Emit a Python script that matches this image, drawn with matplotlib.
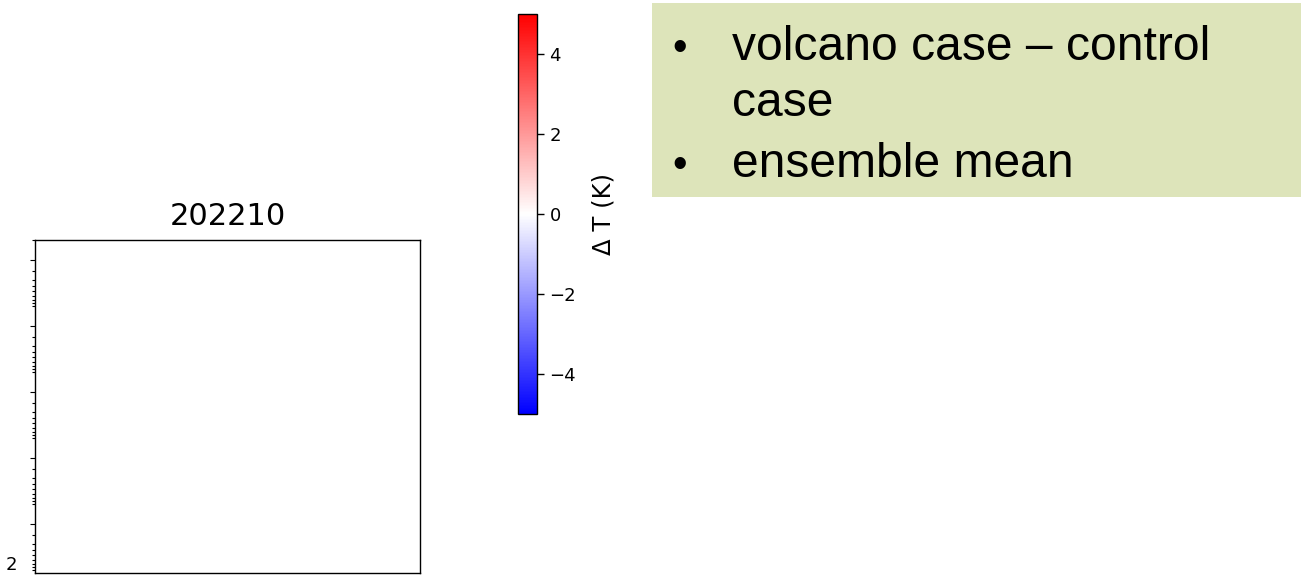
import matplotlib
matplotlib.use("Agg")
import matplotlib.pyplot as plt
from matplotlib.patches import Rectangle
from matplotlib.ticker import FixedLocator, LogLocator, NullFormatter
from matplotlib.cm import ScalarMappable
from matplotlib.colors import Normalize

# ---- data / text ----
panel_title = "202210"
pressure_limits = [1110, 0.01]          # log y-axis (inverted)
pressure_major = [0.02, 0.2, 2, 20, 200]
pressure_label_text = "2"
cbar_limits = [-5, 5]
cbar_ticks = [-4, -2, 0, 2, 4]
cbar_label = "Δ T (K)"
bullet_lines = ["volcano case – control", "case", "ensemble mean"]
bullet_flags = [True, False, True]

W, H = 1301, 578
fig = plt.figure(figsize=(W / 100, H / 100), dpi=100)

def fx(px):
    return px / W

def fy(py):
    return 1 - py / H

# ---- main (empty) axes ----
ax = fig.add_axes([fx(35), fy(573), fx(420) - fx(35), fy(240) - fy(573)])
ax.set_yscale("log")
ax.set_ylim(*pressure_limits)
ax.yaxis.set_major_locator(FixedLocator(pressure_major))
ax.yaxis.set_minor_locator(LogLocator(base=10, subs=[1, 3, 4, 5, 6, 7, 8, 9], numticks=30))
ax.yaxis.set_major_formatter(NullFormatter())
ax.yaxis.set_minor_formatter(NullFormatter())
ax.set_xticks([])
ax.tick_params(axis="y", which="major", length=3.4, width=0.8)
ax.tick_params(axis="y", which="minor", length=2.3, width=0.8)
for s in ax.spines.values():
    s.set_linewidth(1.0)
ax.set_title(panel_title, fontsize=22, pad=10.5)
fig.text(fx(17.5), fy(565.5), pressure_label_text, ha="right", va="center", fontsize=13)

# ---- colorbar ----
cax = fig.add_axes([fx(518), fy(414), fx(537) - fx(518), fy(14) - fy(414)])
sm = ScalarMappable(norm=Normalize(*cbar_limits), cmap="bwr")
cb = fig.colorbar(sm, cax=cax)
cb.set_ticks(cbar_ticks)
cb.ax.tick_params(labelsize=13, length=5, width=1.0, pad=4)
cb.outline.set_linewidth(1.0)
cb.set_label(cbar_label, fontsize=17.5, labelpad=11)

# ---- text box ----
fig.add_artist(Rectangle((fx(651.5), fy(197)), 1 - fx(651.5), fy(2.7) - fy(197),
                         transform=fig.transFigure, facecolor="#DDE4BA",
                         edgecolor="none", zorder=0))
baselines = [60, 116, 177]
for txt, flag, yb in zip(bullet_lines, bullet_flags, baselines):
    if flag:
        fig.text(fx(680), fy(yb), "•", ha="center", va="baseline",
                 fontsize=30, family="Liberation Sans")
    fig.text(fx(732), fy(yb), txt, ha="left", va="baseline",
             fontsize=34.6, family="Liberation Sans")

fig.savefig("out.png", dpi=100)
